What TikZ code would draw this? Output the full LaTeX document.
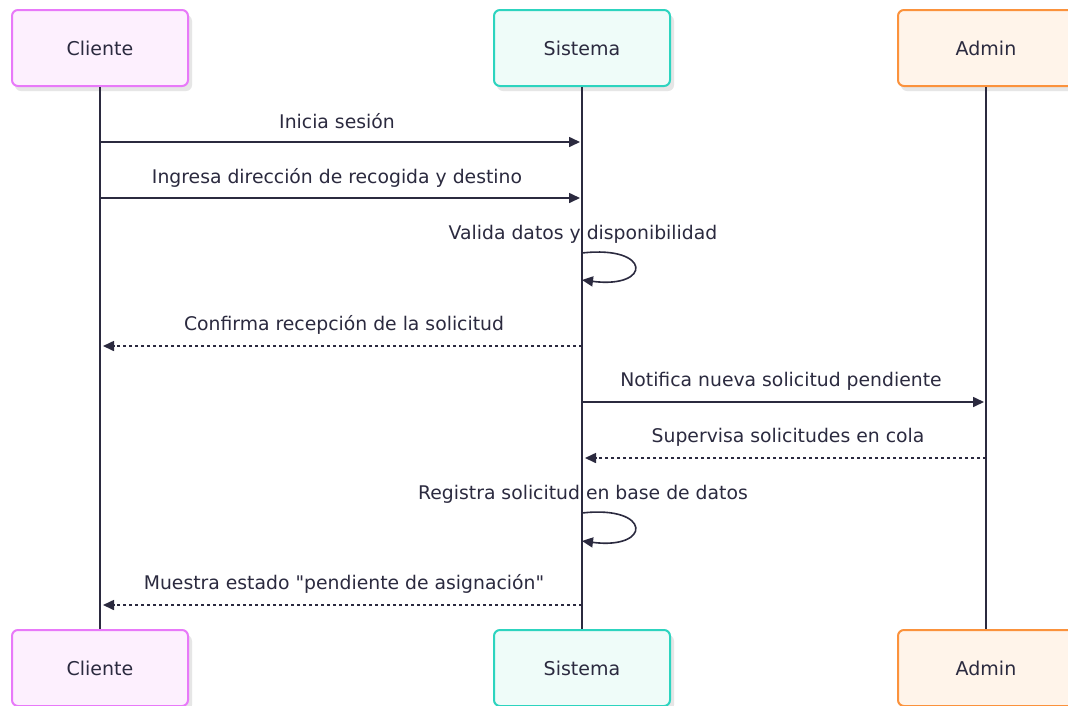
\documentclass[tikz,border=0pt]{standalone}
\usepackage{fontspec}
\newfontfamily\dejafont{DejaVu Sans}
\usetikzlibrary{arrows.meta}
\definecolor{ink}{HTML}{2B2A3F}
\definecolor{cliF}{HTML}{FDF0FE}
\definecolor{cliD}{HTML}{E879F9}
\definecolor{sisF}{HTML}{EFFCF9}
\definecolor{sisD}{HTML}{2DD4BF}
\definecolor{admF}{HTML}{FFF4EA}
\definecolor{admD}{HTML}{FB923C}
\definecolor{shadowc}{HTML}{E6E6E6}
\tikzset{
  actor/.style={rounded corners=6pt, line width=2pt, minimum width=176pt, minimum height=76pt,
    text=ink, font=\dejafont\fontsize{19}{22}\selectfont, inner sep=0pt},
  life/.style={line width=2pt, draw=ink},
  msg/.style={line width=1.6pt, draw=ink, -{Triangle[length=11pt,width=10pt]}},
  reply/.style={msg, dash pattern=on 3pt off 3pt},
  lbl/.style={text=ink, font=\dejafont\fontsize{18.8}{22}\selectfont, inner sep=0pt}
}
\begin{document}
\begin{tikzpicture}[x=1pt,y=-1pt]
\useasboundingbox (0,0) rectangle (1068,705);
\fill[white] (0,0) rectangle (1068,705);
% shadows
\foreach \cx in {100,582,986}{
  \fill[shadowc] (\cx-85,15) [rounded corners=6pt] rectangle (\cx+92,91);
  \fill[shadowc] (\cx-85,635) [rounded corners=6pt] rectangle (\cx+92,711);
}
% actors
\node[actor, draw=cliD, fill=cliF] (c1) at (100,48) {Cliente};
\node[actor, draw=sisD, fill=sisF] (s1) at (582,48) {Sistema};
\node[actor, draw=admD, fill=admF] (a1) at (986,48) {Admin};
\node[actor, draw=cliD, fill=cliF] (c2) at (100,668) {Cliente};
\node[actor, draw=sisD, fill=sisF] (s2) at (582,668) {Sistema};
\node[actor, draw=admD, fill=admF] (a2) at (986,668) {Admin};
% lifelines
\draw[life] (c1.south) -- (c2.north);
\draw[life] (s1.south) -- (s2.north);
\draw[life] (a1.south) -- (a2.north);
% coordinates
\coordinate (c142) at (100,142); \coordinate (s142) at (580,142);
\coordinate (c198) at (100,198); \coordinate (s198) at (580,198);
\coordinate (sL1a) at (582,253); \coordinate (sL1b) at (582,280);
\coordinate (s346) at (582,346); \coordinate (c346) at (103,346);
\coordinate (s402) at (582,402); \coordinate (a402) at (984,402);
\coordinate (a458) at (986,458); \coordinate (s458) at (585,458);
\coordinate (sL2a) at (582,513); \coordinate (sL2b) at (582,541);
\coordinate (s605) at (582,605); \coordinate (c605) at (103,605);
% messages
\draw[msg] (c142) -- (s142);
\node[lbl] (m1) at (337,121) {Inicia sesión};
\draw[msg] (c198) -- (s198);
\node[lbl] (m2) at (337,178) {Ingresa dirección de recogida y destino};
\node[lbl] (m3) at (583,234) {Valida datos y disponibilidad};
\draw[msg] (sL1a) .. controls (652,245) and (652,289) .. (sL1b);
\draw[reply] (s346) -- (c346);
\node[lbl] (m4) at (344,325) {Confirma recepción de la solicitud};
\draw[msg] (s402) -- (a402);
\node[lbl] (m5) at (781,381) {Notifica nueva solicitud pendiente};
\draw[reply] (a458) -- (s458);
\node[lbl] (m6) at (788,437) {Supervisa solicitudes en cola};
\node[lbl] (m7) at (583,494) {Registra solicitud en base de datos};
\draw[msg] (sL2a) .. controls (652,505) and (652,550) .. (sL2b);
\draw[reply] (s605) -- (c605);
\node[lbl] (m8) at (344,584) {Muestra estado "pendiente de asignación"};
\end{tikzpicture}
\end{document}
